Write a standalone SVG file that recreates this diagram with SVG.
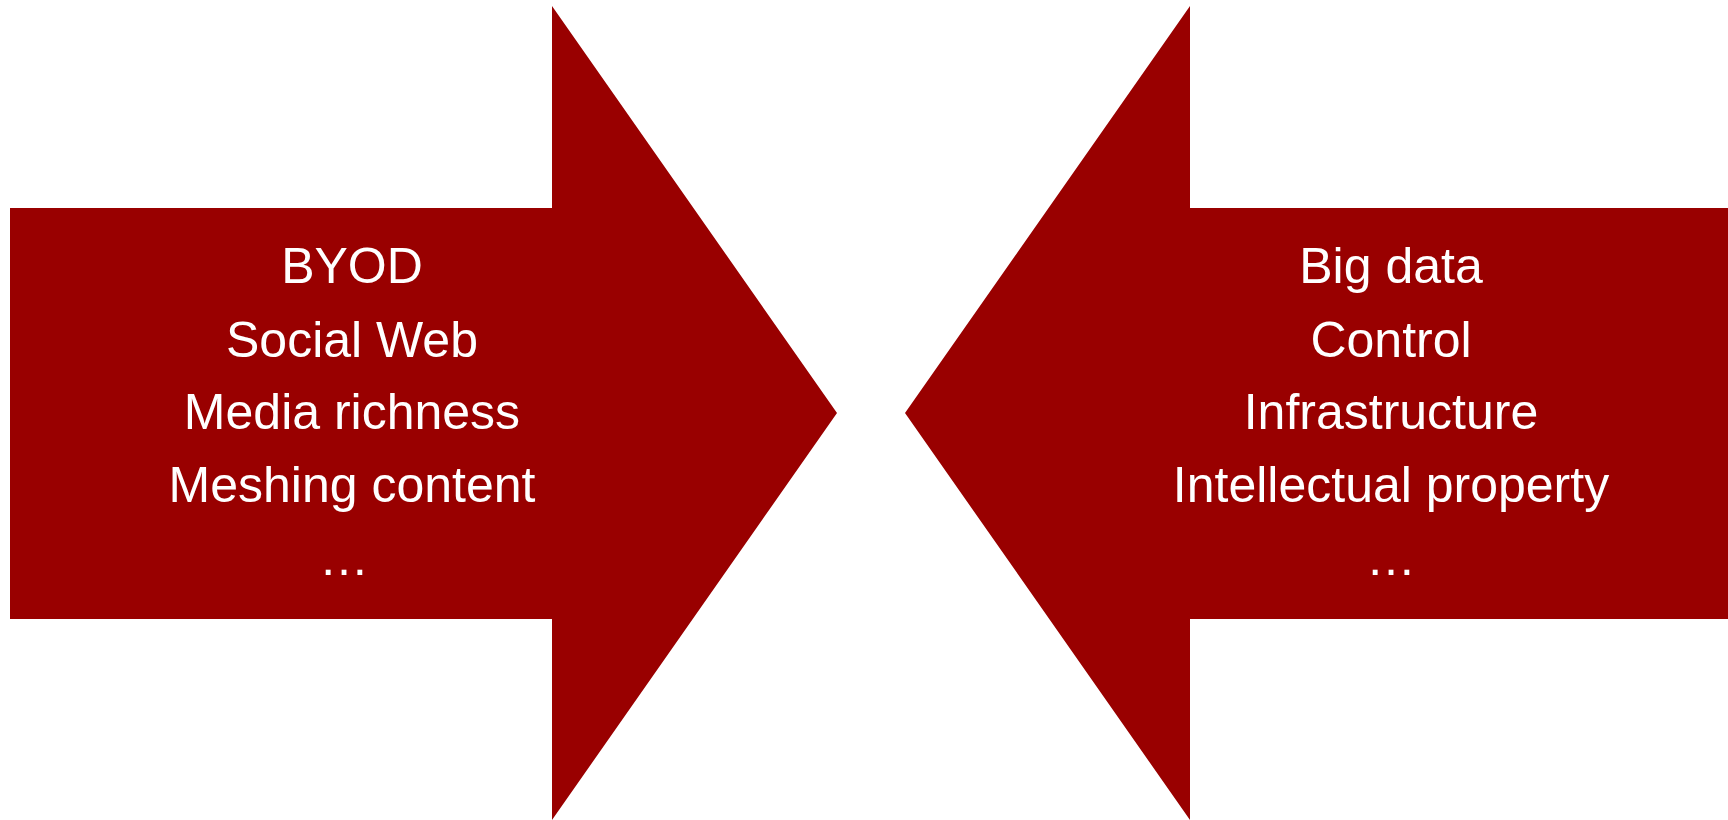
<svg xmlns="http://www.w3.org/2000/svg" width="1728" height="820" viewBox="0 0 1728 820">
<style>
.arrow{fill:#990000;stroke:none}
.lbl{font-family:"Liberation Sans",Arial,sans-serif;font-size:50px;fill:#ffffff;text-anchor:middle}
</style>
<rect width="1728" height="820" fill="#ffffff"/>
<g id="left-arrow">
<polygon class="arrow" points="10,208 552,208 552,6 837,413 552,820 552,619 10,619"/>
<text class="lbl" x="352" y="283">BYOD</text>
<text class="lbl" x="352" y="357">Social Web</text>
<text class="lbl" x="352" y="429">Media richness</text>
<text class="lbl" x="352" y="502">Meshing content</text>
<text class="lbl" x="344" y="575">…</text>
</g>
<g id="right-arrow">
<polygon class="arrow" points="1728,208 1190,208 1190,6 905,413 1190,820 1190,619 1728,619"/>
<text class="lbl" x="1391" y="283">Big data</text>
<text class="lbl" x="1391" y="357">Control</text>
<text class="lbl" x="1391" y="429">Infrastructure</text>
<text class="lbl" x="1391" y="502">Intellectual property</text>
<text class="lbl" x="1391" y="575">…</text>
</g>
<g id="connectors"></g>
</svg>
